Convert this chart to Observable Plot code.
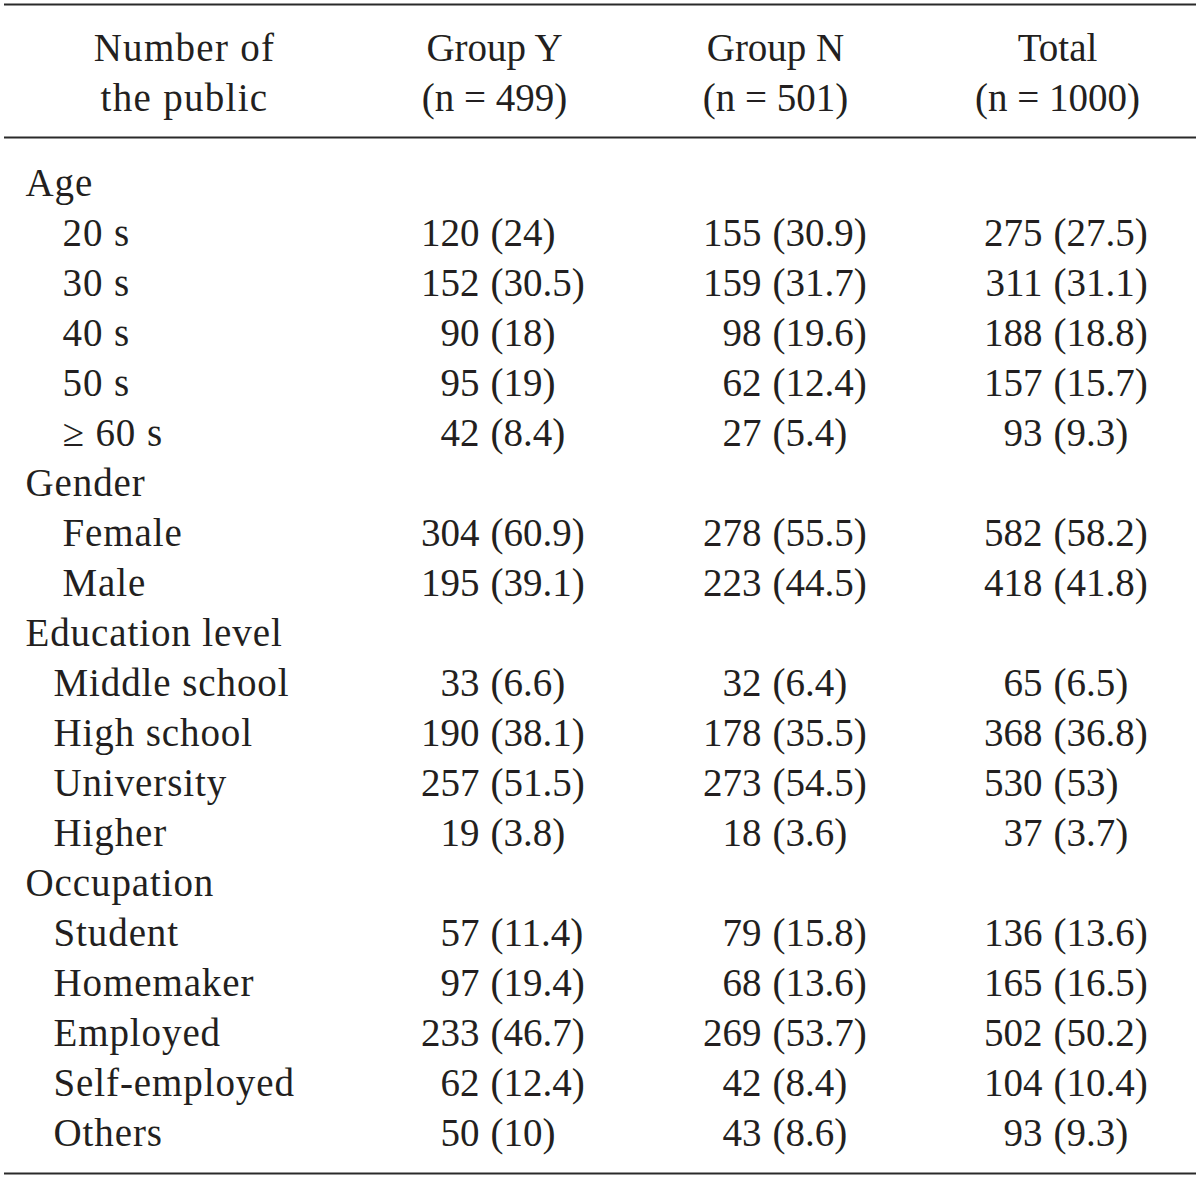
<!DOCTYPE html>
<html>
<head>
<meta charset="utf-8">
<script src="https://cdn.jsdelivr.net/npm/d3@7"></script>
<script src="https://cdn.jsdelivr.net/npm/@observablehq/plot@0.6"></script>
<style>
  html, body { margin: 0; padding: 0; background: #ffffff; }
  #chart svg { display: block; }
</style>
</head>
<body>
<div id="chart"></div>
<script>
// ---- Data ----
const headerLines = [
  ["Number of", "the public"],
  ["Group Y", "(n = 499)"],
  ["Group N", "(n = 501)"],
  ["Total", "(n = 1000)"]
];
const rowLabels = ["Age","20 s","30 s","40 s","50 s","≥ 60 s","Gender","Female","Male","Education level","Middle school","High school","University","Higher","Occupation","Student","Homemaker","Employed","Self-employed","Others"];
// 0 = section heading, 1 = sub item (age / gender), 2 = sub item (education / occupation)
const rowLevel = [0,1,1,1,1,1,0,1,1,0,2,2,2,2,0,2,2,2,2,2];
const groupYCount = [null,120,152,90,95,42,null,304,195,null,33,190,257,19,null,57,97,233,62,50];
const groupYPct   = [null,"24","30.5","18","19","8.4",null,"60.9","39.1",null,"6.6","38.1","51.5","3.8",null,"11.4","19.4","46.7","12.4","10"];
const groupNCount = [null,155,159,98,62,27,null,278,223,null,32,178,273,18,null,79,68,269,42,43];
const groupNPct   = [null,"30.9","31.7","19.6","12.4","5.4",null,"55.5","44.5",null,"6.4","35.5","54.5","3.6",null,"15.8","13.6","53.7","8.4","8.6"];
const totalCount  = [null,275,311,188,157,93,null,582,418,null,65,368,530,37,null,136,165,502,104,93];
const totalPct    = [null,"27.5","31.1","18.8","15.7","9.3",null,"58.2","41.8",null,"6.5","36.8","53","3.7",null,"13.6","16.5","50.2","10.4","9.3"];

// ---- Layout ----
const W = 1200, H = 1178;
const firstRowY = 195, rowStep = 50;
const headerY = [60, 110];
const headerX = [184, 494, 775, 1057];
const labelX = [25, 62, 53];
const valueColX = [479, 761, 1042]; // count right edge
const pctGap = 11;
const rulesY = [4, 137, 1173];
const ink = "#231f20";
const fs = 39;

const rows = rowLabels.map((label, i) => ({
  label, level: rowLevel[i], y: firstRowY + i * rowStep,
  cols: [[groupYCount[i], groupYPct[i]], [groupNCount[i], groupNPct[i]], [totalCount[i], totalPct[i]]]
}));
const valueRows = rows.filter(r => r.cols[0][0] != null);
const cells = [];
valueRows.forEach(r => r.cols.forEach((c, j) => cells.push({y: r.y, col: j, count: String(c[0]), pct: `(${c[1]})`})));

const headers = [];
headerLines.forEach((lines, j) => lines.forEach((t, k) => headers.push({text: t, x: headerX[j], y: headerY[k], stub: j === 0})));

const textOpts = {fontSize: fs, fill: ink, lineAnchor: "bottom"};

const chart = Plot.plot({
  width: W, height: H, margin: 0,
  x: {type: "linear", domain: [0, W], range: [0, W], axis: null},
  y: {type: "linear", domain: [0, H], range: [0, H], axis: null},
  style: {fontFamily: "'Liberation Serif', 'Times New Roman', serif", background: "#ffffff", color: ink},
  marks: [
    Plot.ruleY(rulesY, {x1: 4, x2: 1196, stroke: "#2a2a2a", strokeWidth: 1.8}),
    Plot.text(headers, {x: "x", y: "y", text: "text", textAnchor: "middle", ...textOpts}),
    Plot.text(rows, {x: d => labelX[d.level], y: "y", text: "label", textAnchor: "start", ...textOpts}),
    Plot.text(cells, {x: d => valueColX[d.col], y: "y", text: "count", textAnchor: "end", ...textOpts}),
    Plot.text(cells, {x: d => valueColX[d.col] + pctGap, y: "y", text: "pct", textAnchor: "start", ...textOpts})
  ]
});

// Slightly wider letter spacing for word labels (the reference face is wider than Liberation Serif)
const labelSet = new Set(rowLabels);
const stubSet = new Set(headerLines[0]);
d3.select(chart).selectAll("text").each(function() {
  const t = this.textContent;
  if (labelSet.has(t)) this.setAttribute("letter-spacing", "0.9");
  else if (stubSet.has(t)) this.setAttribute("letter-spacing", "1.3");
});
document.getElementById("chart").appendChild(chart);
</script>
</body>
</html>
